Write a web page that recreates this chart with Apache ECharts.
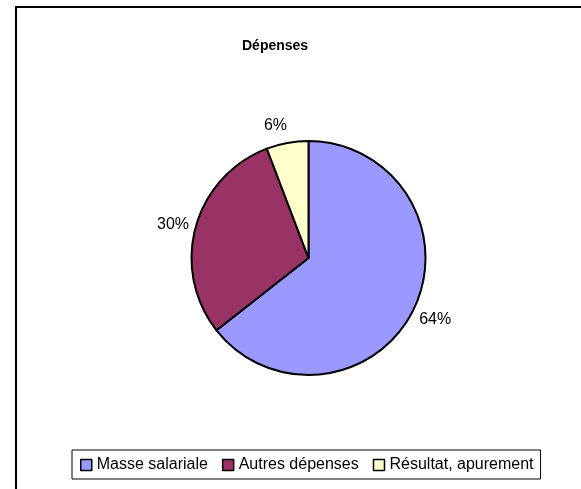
<!DOCTYPE html>
<html>
<head>
<meta charset="utf-8">
<script src="https://cdn.jsdelivr.net/npm/echarts@6/dist/echarts.min.js"></script>
<style>
html,body{margin:0;padding:0;background:#fff;}
#chart{width:581px;height:489px;}
</style>
</head>
<body>
<div id="chart"></div>
<script>
const titleText = 'Dépenses';
const categories = ['Masse salariale', 'Autres dépenses', 'Résultat, apurement'];
const values = [64.4, 29.8, 5.8];
const colors = ['#9999FF', '#993366', '#FFFFCC'];

const labelLineLengths = [6, 8, 18];
const labelNudges = [[-5, 8], [6, 0], [8, 0]];

const chart = echarts.init(document.getElementById('chart'), null, {renderer: 'canvas'});
const FONT = '"Liberation Sans", Arial, sans-serif';
chart.setOption({
  animation: false,
  backgroundColor: '#ffffff',
  graphic: [{
    type: 'rect',
    shape: {x: 16, y: 7, width: 700, height: 700},
    style: {fill: 'none', stroke: '#000', lineWidth: 2},
    silent: true
  }],
  title: {
    text: titleText,
    left: 242,
    top: 39,
    padding: 0,
    textStyle: {fontFamily: FONT, fontSize: 14, fontWeight: 'bold', color: '#000'}
  },
  legend: {
    data: categories,
    left: 72,
    top: 450,
    orient: 'horizontal',
    icon: 'rect',
    itemWidth: 11,
    itemHeight: 11,
    itemGap: 14,
    padding: [7, 7, 6, 8],
    borderColor: '#000',
    borderWidth: 1,
    borderRadius: 0,
    itemStyle: {borderColor: '#000', borderWidth: 1.5},
    textStyle: {fontFamily: FONT, fontSize: 16, color: '#000'}
  },
  series: [{
    type: 'pie',
    center: [308.5, 258],
    radius: 117,
    startAngle: 90,
    clockwise: true,
    avoidLabelOverlap: false,
    data: categories.map((c, i) => ({
      name: c,
      value: values[i],
      itemStyle: {color: colors[i]},
      labelLine: {length: labelLineLengths[i]}
    })),
    itemStyle: {borderColor: '#000', borderWidth: 2},
    label: {
      show: true,
      position: 'outside',
      formatter: p => Math.round(p.value) + '%',
      fontFamily: FONT,
      fontSize: 16,
      color: '#000'
    },
    labelLayout: params => ({dx: labelNudges[params.dataIndex][0], dy: labelNudges[params.dataIndex][1]}),
    labelLine: {show: false, length: 10, length2: 0},
    emphasis: {disabled: true}
  }]
});
</script>
</body>
</html>
